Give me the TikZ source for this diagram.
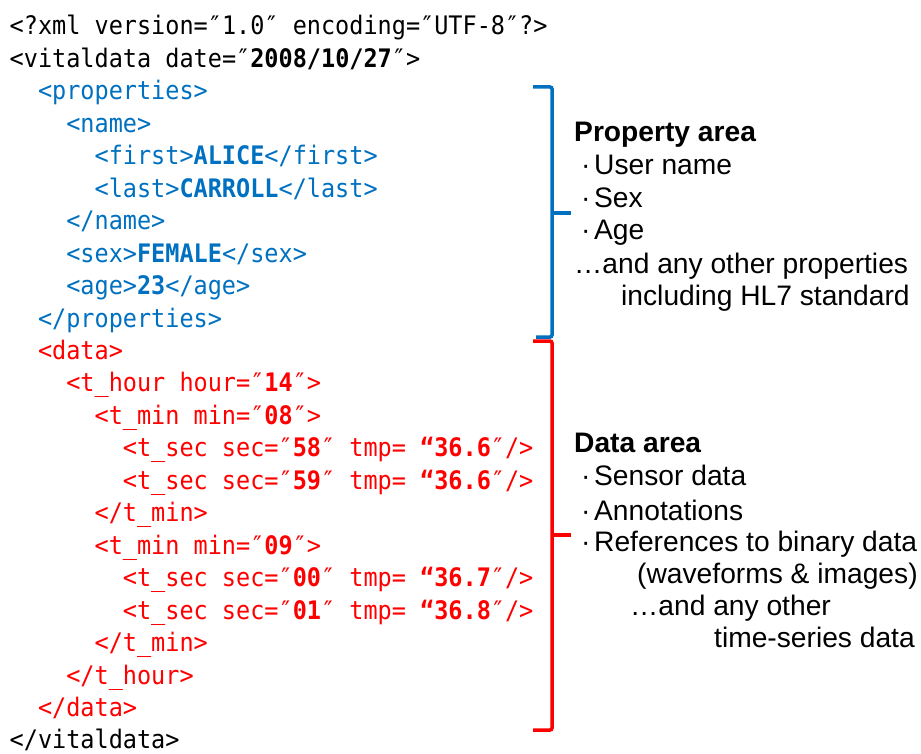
\documentclass[tikz,border=0pt]{standalone}
\usepackage{fontspec}
\setmainfont{Liberation Sans}
\newfontfamily\codefont[FakeStretch=0.922]{DejaVu Sans Mono}
\definecolor{xmlblue}{RGB}{0,112,192}
\definecolor{xmlred}{RGB}{255,0,0}
\newcommand\val[1]{{\bfseries #1}}
\tikzset{
  codeline/.style={anchor=base west, inner sep=0pt, font=\fontsize{25.5}{32}\codefont},
  noteline/.style={anchor=base west, inner sep=0pt, font=\fontsize{28.2}{32}\selectfont},
  bracket/.style={line width=3.5pt, rounded corners=2pt},
}
\begin{document}
\begin{tikzpicture}[x=1pt,y=-1pt]
\useasboundingbox (0,0) rectangle (921,754);

% indentation columns (0, 2, 4, 6, 8 characters)
\def\ia{9.5}\def\ib{37.8}\def\ic{66.1}\def\id{94.4}\def\ie{122.7}

% XML listing
\node[codeline] (l1) at (\ia,35) {<?xml version=″1.0″ encoding=″UTF-8″?>};
\node[codeline] (l2) at (\ia,67.45) {<vitaldata date=″\val{2008/10/27}″>};
\node[codeline,text=xmlblue] (l3) at (\ib,99.9) {<properties>};
\node[codeline,text=xmlblue] (l4) at (\ic,132.35) {<name>};
\node[codeline,text=xmlblue] (l5) at (\id,164.8) {<first>\val{ALICE}</first>};
\node[codeline,text=xmlblue] (l6) at (\id,197.25) {<last>\val{CARROLL}</last>};
\node[codeline,text=xmlblue] (l7) at (\ic,229.7) {</name>};
\node[codeline,text=xmlblue] (l8) at (\ic,262.15) {<sex>\val{FEMALE}</sex>};
\node[codeline,text=xmlblue] (l9) at (\ic,294.6) {<age>\val{23}</age>};
\node[codeline,text=xmlblue] (l10) at (\ib,327.05) {</properties>};
\node[codeline,text=xmlred] (l11) at (\ib,359.5) {<data>};
\node[codeline,text=xmlred] (l12) at (\ic,391.95) {<t\_hour hour=″\val{14}″>};
\node[codeline,text=xmlred] (l13) at (\id,424.4) {<t\_min min=″\val{08}″>};
\node[codeline,text=xmlred] (l14) at (\ie,456.85) {<t\_sec sec=″\val{58}″ tmp= \val{“36.6}″/>};
\node[codeline,text=xmlred] (l15) at (\ie,489.3) {<t\_sec sec=″\val{59}″ tmp= \val{“36.6}″/>};
\node[codeline,text=xmlred] (l16) at (\id,521.75) {</t\_min>};
\node[codeline,text=xmlred] (l17) at (\id,554.2) {<t\_min min=″\val{09}″>};
\node[codeline,text=xmlred] (l18) at (\ie,586.65) {<t\_sec sec=″\val{00}″ tmp= \val{“36.7}″/>};
\node[codeline,text=xmlred] (l19) at (\ie,619.1) {<t\_sec sec=″\val{01}″ tmp= \val{“36.8}″/>};
\node[codeline,text=xmlred] (l20) at (\id,651.55) {</t\_min>};
\node[codeline,text=xmlred] (l21) at (\ic,684) {</t\_hour>};
\node[codeline,text=xmlred] (l22) at (\ib,716.45) {</data>};
\node[codeline] (l23) at (\ia,748.9) {</vitaldata>};

% brackets grouping the two areas
\draw[bracket,xmlblue] (533,87) -- (552,87) -- (552,337) -- (536,337);
\draw[line width=3.5pt,xmlblue] (552,213) -- (571,213);
\draw[bracket,xmlred] (533,341) -- (552,341) -- (552,730) -- (533,730);
\draw[line width=3.5pt,xmlred] (552,535) -- (571,535);

% property area notes
\node[noteline,font=\fontsize{28.2}{32}\bfseries] (ph) at (574,141.7) {Property area};
\node[noteline] (p1) at (581,174.3) {\makebox[13pt][l]{·}User name};
\node[noteline] (p2) at (581,207.7) {\makebox[13pt][l]{·}Sex};
\node[noteline] (p3) at (581,240) {\makebox[13pt][l]{·}Age};
\node[noteline] (p4) at (574,273.3) {…and any other properties};
\node[noteline] (p5) at (621,305) {including HL7 standard};

% data area notes
\node[noteline,font=\fontsize{28.2}{32}\bfseries] (dh) at (574,452.3) {Data area};
\node[noteline] (d1) at (581,485) {\makebox[13pt][l]{·}Sensor data};
\node[noteline] (d2) at (581,520) {\makebox[13pt][l]{·}Annotations};
\node[noteline] (d3) at (581,551.7) {\makebox[13pt][l]{·}References to binary data};
\node[noteline] (d4) at (637,583.3) {(waveforms \& images)};
\node[noteline] (d5) at (630,615) {…and any other};
\node[noteline] (d6) at (714,647.7) {time-series data};
\end{tikzpicture}
\end{document}
